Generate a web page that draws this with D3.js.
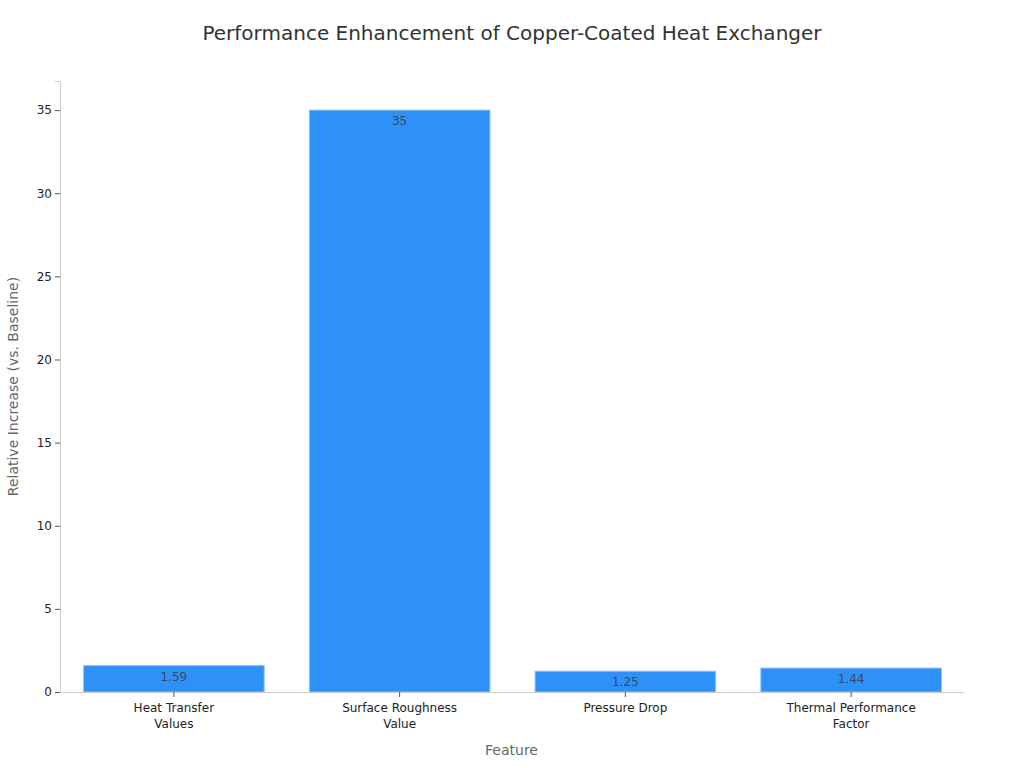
<!DOCTYPE html>
<html>
<head>
<meta charset="utf-8">
<script src="https://cdn.jsdelivr.net/npm/d3@7"></script>
<style>
  body { margin: 0; background: #fff; }
  text { font-family: "DejaVu Sans", sans-serif; }
</style>
</head>
<body>
<div id="chart"></div>
<script>
// chart data
var features = ["Heat Transfer Values", "Surface Roughness Value", "Pressure Drop", "Thermal Performance Factor"];
var featureLines = [["Heat Transfer", "Values"], ["Surface Roughness", "Value"], ["Pressure Drop"], ["Thermal Performance", "Factor"]];
var values = [1.59, 35, 1.25, 1.44];
var valueLabels = ["1.59", "35", "1.25", "1.44"];
var yTicks = [0, 5, 10, 15, 20, 25, 30, 35];

var W = 1024, H = 768;
var margin = { top: 81, right: 61, bottom: 76, left: 60 };
var width = W - margin.left - margin.right,
    height = H - margin.top - margin.bottom;

var svg = d3.select("#chart").append("svg")
    .attr("width", W)
    .attr("height", H);

var g = svg.append("g")
    .attr("transform", "translate(" + margin.left + "," + margin.top + ")");

var x = d3.scaleBand()
    .domain(features)
    .range([0, width])
    .paddingInner(0.2)
    .paddingOuter(0.1);

var y = d3.scaleLinear()
    .domain([0, d3.max(values) * 1.05])
    .range([height, 0]);

// title
svg.append("text")
    .attr("x", W / 2)
    .attr("y", 40)
    .attr("text-anchor", "middle")
    .style("font-size", "20px")
    .style("fill", "#333")
    .text("Performance Enhancement of Copper-Coated Heat Exchanger");

// bars
var data = features.map(function (f, i) { return { f: f, v: values[i], lab: valueLabels[i] }; });

g.selectAll(".bar")
    .data(data)
    .enter().append("rect")
    .attr("class", "bar")
    .attr("x", function (d) { return x(d.f) + 1; })
    .attr("y", function (d) { return y(d.v); })
    .attr("width", x.bandwidth())
    .attr("height", function (d) { return height - y(d.v); })
    .style("fill", "#2E91F8")
    .style("stroke", "#8cc4fb")
    .style("stroke-width", 1);

g.selectAll(".vlabel")
    .data(data)
    .enter().append("text")
    .attr("class", "vlabel")
    .attr("x", function (d) { return x(d.f) + 1 + x.bandwidth() / 2; })
    .attr("y", function (d) { return y(d.v) + 15; })
    .attr("text-anchor", "middle")
    .style("font-size", "12px")
    .style("fill", "#3a4a5c")
    .text(function (d) { return d.lab; });

// y axis
var yAxis = g.append("g")
    .call(d3.axisLeft(y).tickValues(yTicks).tickSize(5).tickPadding(3));
yAxis.select(".domain").attr("stroke", "#ccc");
yAxis.selectAll(".tick line").attr("stroke", "#555");
yAxis.selectAll(".tick text").style("font-size", "12px").style("fill", "#222").style("font-family", "DejaVu Sans, sans-serif");

// x axis
var xAxis = g.append("g")
    .attr("transform", "translate(1," + height + ")")
    .call(d3.axisBottom(x).tickSize(5).tickPadding(4).tickSizeOuter(0));
xAxis.select(".domain").attr("stroke", "#ccc");
xAxis.selectAll(".tick line").attr("stroke", "#555");
xAxis.selectAll(".tick text").remove();
xAxis.selectAll(".tick").each(function (d, i) {
    var t = d3.select(this).append("text")
        .attr("y", 20)
        .attr("text-anchor", "middle")
        .style("font-size", "12px")
        .style("fill", "#222")
        .style("font-family", "DejaVu Sans, sans-serif");
    featureLines[i].forEach(function (line, j) {
        t.append("tspan").attr("x", 0).attr("dy", j === 0 ? 0 : 16).text(line);
    });
});

// axis titles
svg.append("text")
    .attr("x", margin.left + width / 2)
    .attr("y", 755)
    .attr("text-anchor", "middle")
    .style("font-size", "14px")
    .style("fill", "#666")
    .text("Feature");

svg.append("text")
    .attr("transform", "translate(18," + (margin.top + height / 2) + ") rotate(-90)")
    .attr("text-anchor", "middle")
    .style("font-size", "14px")
    .style("fill", "#666")
    .text("Relative Increase (vs. Baseline)");
</script>
</body>
</html>
